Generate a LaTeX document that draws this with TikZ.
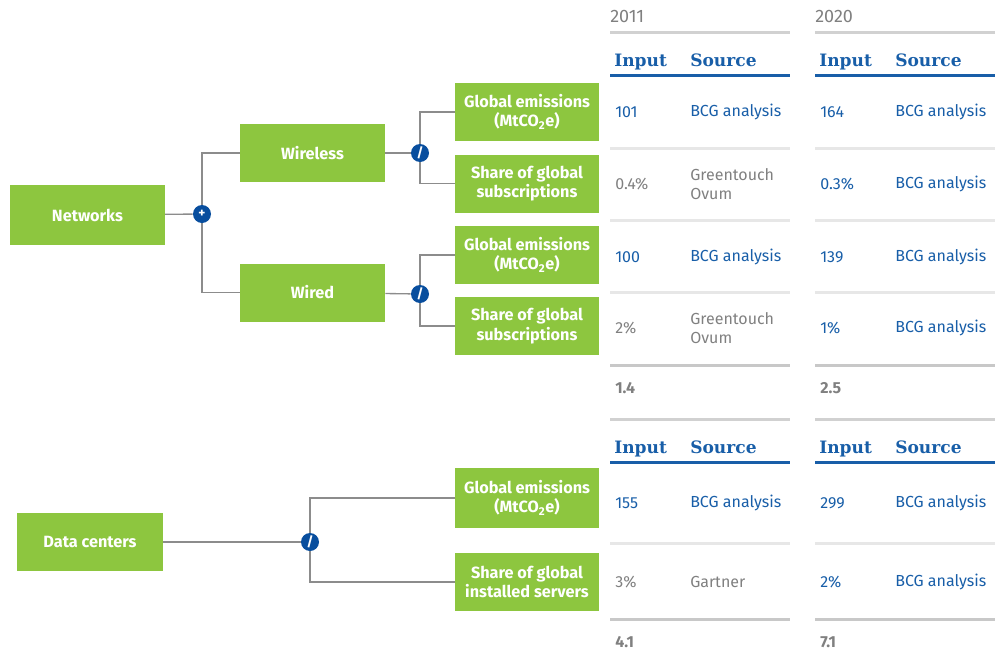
\documentclass[tikz,border=0pt]{standalone}
\usepackage{fontspec}
\setmainfont{Fira Sans}
\newfontfamily\headfont{DejaVu Serif}
\usetikzlibrary{backgrounds}
\definecolor{bcggreen}{RGB}{141,198,63}
\definecolor{bcgblue}{RGB}{24,94,168}
\definecolor{opblue}{RGB}{8,78,158}
\definecolor{txtgray}{RGB}{128,128,128}
\definecolor{linkgray}{RGB}{140,140,140}
\definecolor{rulelight}{RGB}{231,231,231}
\definecolor{ruledark}{RGB}{200,200,200}
\tikzset{every node/.style={font=\fontsize{12}{14.5}\selectfont},
  box/.style={fill=bcggreen,text=white,font=\fontsize{12.2}{14.5}\selectfont\bfseries,align=center,inner sep=0pt,minimum width=108pt,minimum height=43.5pt},
  op/.style={circle,fill=opblue,text=white,inner sep=0pt,minimum size=13.5pt,font=\fontsize{10}{10}\selectfont\bfseries},
  link/.style={linkgray,line width=1pt},
  val/.style={anchor=west,text=bcgblue,inner sep=0pt,align=left},
  old/.style={val,text=txtgray},
  total/.style={val,text=txtgray,font=\fontsize{12}{14}\selectfont\bfseries},
  head/.style={anchor=base west,inner sep=0pt,text=bcgblue,font=\fontsize{12.8}{14}\selectfont\headfont\bfseries},
  rule/.style={line width=2.25pt,rulelight}}

\begin{document}
\begin{tikzpicture}[x=0.75pt,y=-0.75pt]
\useasboundingbox (0,0) rectangle (1001,650);
% tree: networks
\node[box,minimum width=116pt,minimum height=45pt] (net) at (87.5,215) {Networks};
\node[op] (plus) at (202,214) {+};
\node[box,minimum width=109pt] (wireless) at (312.5,153) {Wireless};
\node[box,minimum width=109pt] (wired) at (312.5,292.5) {Wired};
\node[op] (divA) at (420,153) {/};\node[op] (divB) at (420,294) {/};
\node[box] (emA) at (527,112) {Global emissions\\(MtCO\textsubscript{2}e)};
\node[box] (shA) at (527,183.5) {Share of global\\subscriptions};
\node[box] (emB) at (527,255) {Global emissions\\(MtCO\textsubscript{2}e)};
\node[box] (shB) at (527,326) {Share of global\\subscriptions};
% tree: data centers
\node[box,minimum width=109.5pt] (dc) at (90,542) {Data centers};
\node[op] (divC) at (310,542) {/};
\node[box,minimum height=45pt] (emC) at (527,498) {Global emissions\\(MtCO\textsubscript{2}e)};
\node[box] (shC) at (527,582) {Share of global\\installed servers};
\begin{scope}[on background layer]
\draw[link] (net) -- (plus);\draw[link] (plus) |- (wireless.west);\draw[link] (plus) |- (wired.west);
\draw[link] (wireless) -- (divA);\draw[link] (divA) |- (emA.west);\draw[link] (divA) |- (shA.west);
\draw[link] (wired) -- (divB);\draw[link] (divB) |- (emB.west);\draw[link] (divB) |- (shB.west);
\draw[link] (dc) -- (divC);\draw[link] (divC) |- (emC.west);\draw[link] (divC) |- (shC.west);
\end{scope}
% table rules and headers
\foreach \c/\yr in {610/2011,815/2020}{
  \node[anchor=west,inner sep=0pt,text=txtgray,font=\fontsize{13.5}{14}\selectfont] (year\yr) at (\c,16) {\yr};
  \foreach \y in {32,419} \draw[rule,ruledark!70!rulelight] (\c,\y) -- ++(180,0);
  \foreach \y in {148,220,292,543} \draw[rule] (\c,\y) -- ++(180,0);
  \foreach \y in {365,619} \draw[rule,ruledark] (\c,\y) -- ++(180,0);
  \foreach \y in {75,462} \draw[rule,bcgblue] (\c,\y) -- ++(180,0);
  \foreach \y in {66,453}{\node[head] (in\yr-\y) at (\c+4,\y) {Input};\node[head] (src\yr-\y) at (\c+80,\y) {Source};}
}
% 2011 values
\foreach \y/\inp/\src/\st in {112/101/BCG analysis/val,184/0.4\%/{Greentouch\\Ovum}/old,257/100/BCG analysis/val,328/2\%/{Greentouch\\Ovum}/old,503/155/BCG analysis/val,582/3\%/Gartner/old}{
  \node[\st] (a-\y) at (615,\y) {\inp};\node[\st] (as-\y) at (690,\y) {\src};}
% 2020 values
\foreach \y/\inp in {112/164,184/0.3\%,257/139,328/1\%,503/299,582/2\%}{
  \node[val] (b-\y) at (820,\y) {\inp};\node[val] (bs-\y) at (895,\y) {BCG analysis};}
\node[total] (totA) at (615,388) {1.4};\node[total] (totB) at (820,388) {2.5};
\node[total] (totC) at (615,642) {4.1};\node[total] (totD) at (820,642) {7.1};
\end{tikzpicture}
\end{document}
